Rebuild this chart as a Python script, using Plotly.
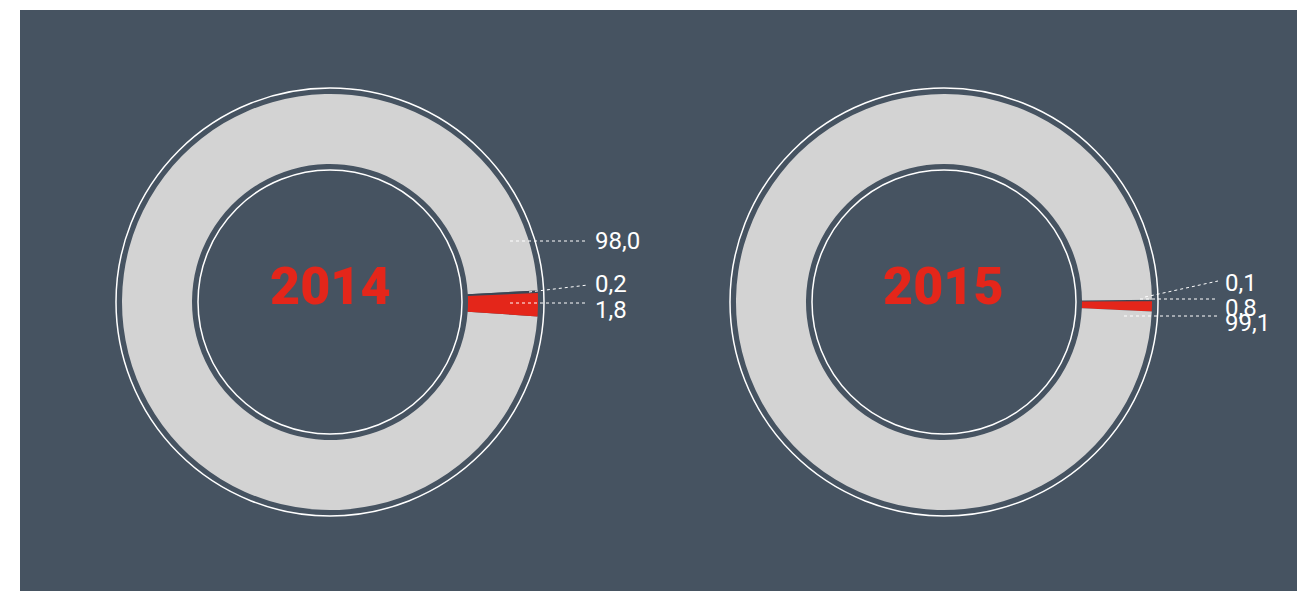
import plotly.graph_objects as go

# ---- data ----
years = ["2014", "2015"]
labels_2014 = ["98,0", "0,2", "1,8"]
values_2014 = [98.0, 0.2, 1.8]
labels_2015 = ["0,1", "0,8", "99,1"]
values_2015 = [0.1, 0.8, 99.1]

# ---- style / layout ----
W, H = 1297, 591
ML, MT = 20, 10
PW, PH = W - ML, H - MT
BG = "#465361"
GRAY = "#D3D3D3"
RED = "#E4261A"
SLIVER = "#3B4653"

def px2x(px):
    return (px - ML) / PW

def py2y(py):
    return 1 - (py - MT) / PH

R_OUT, R_IN = 208, 138
R_RING_OUT, R_RING_IN = 214, 132
CY = 302

charts = [
    dict(year=years[0], cx=330, labels=labels_2014, values=values_2014,
         colors=[GRAY, SLIVER, RED], rotation=94,
         order=["98,0", "0,2", "1,8"],
         # leader: (start dx, start dy, end dx, end dy, text dy)
         leaders=[(180, -61, 258, -61, -61), (199, -10, 258, -17, -18), (180, 1, 258, 1, 8)],
         text_dx=263),
    dict(year=years[1], cx=944, labels=labels_2015, values=values_2015,
         colors=[SLIVER, RED, GRAY], rotation=89.4,
         order=["0,1", "0,8", "99,1"],
         leaders=[(201, -5, 274, -21, -19), (196, -3, 274, -3, 6), (180, 14, 274, 14, 21)],
         text_dx=279),
]

fig = go.Figure()
shapes = [dict(type="rect", xref="paper", yref="paper", x0=0, x1=1, y0=0, y1=1,
               fillcolor=BG, line=dict(width=0), layer="below")]
annotations = []

for c in charts:
    cx = c["cx"]
    fig.add_trace(go.Pie(
        values=c["values"], labels=c["labels"], sort=False, direction="clockwise",
        rotation=c["rotation"], hole=R_IN / R_OUT, textinfo="none", hoverinfo="label",
        marker=dict(colors=c["colors"], line=dict(width=0)),
        domain=dict(x=[px2x(cx - R_OUT), px2x(cx + R_OUT)],
                    y=[py2y(CY + R_OUT), py2y(CY - R_OUT)]),
        showlegend=False,
    ))
    for r in (R_RING_OUT, R_RING_IN):
        shapes.append(dict(type="circle", xref="paper", yref="paper",
                           x0=px2x(cx - r), x1=px2x(cx + r),
                           y0=py2y(CY + r), y1=py2y(CY - r),
                           line=dict(color="white", width=1.5), layer="above"))
    annotations.append(dict(text=c["year"], xref="paper", yref="paper",
                            x=px2x(cx), y=py2y(CY - 16), showarrow=False,
                            xanchor="center", yanchor="middle",
                            font=dict(family="Roboto", size=52, color=RED, weight=900)))
    for lab, (sx, sy, ex, ey, ty) in zip(c["order"], c["leaders"]):
        shapes.append(dict(type="line", xref="paper", yref="paper",
                           x0=px2x(cx + sx), y0=py2y(CY + sy),
                           x1=px2x(cx + ex), y1=py2y(CY + ey),
                           line=dict(color="white", width=1, dash="dot"), layer="above"))
        annotations.append(dict(text=lab, xref="paper", yref="paper",
                                x=px2x(cx + c["text_dx"]), y=py2y(CY + ty),
                                showarrow=False, xanchor="left", yanchor="middle",
                                font=dict(family="Roboto", size=24, color="white")))

fig.update_layout(width=W, height=H, margin=dict(l=ML, r=0, t=MT, b=0),
                  paper_bgcolor="white", plot_bgcolor=BG,
                  shapes=shapes, annotations=annotations)
fig.write_html("out.html", config={"displayModeBar": False},
               post_script="document.body.style.margin='0';document.body.style.overflow='hidden';")
